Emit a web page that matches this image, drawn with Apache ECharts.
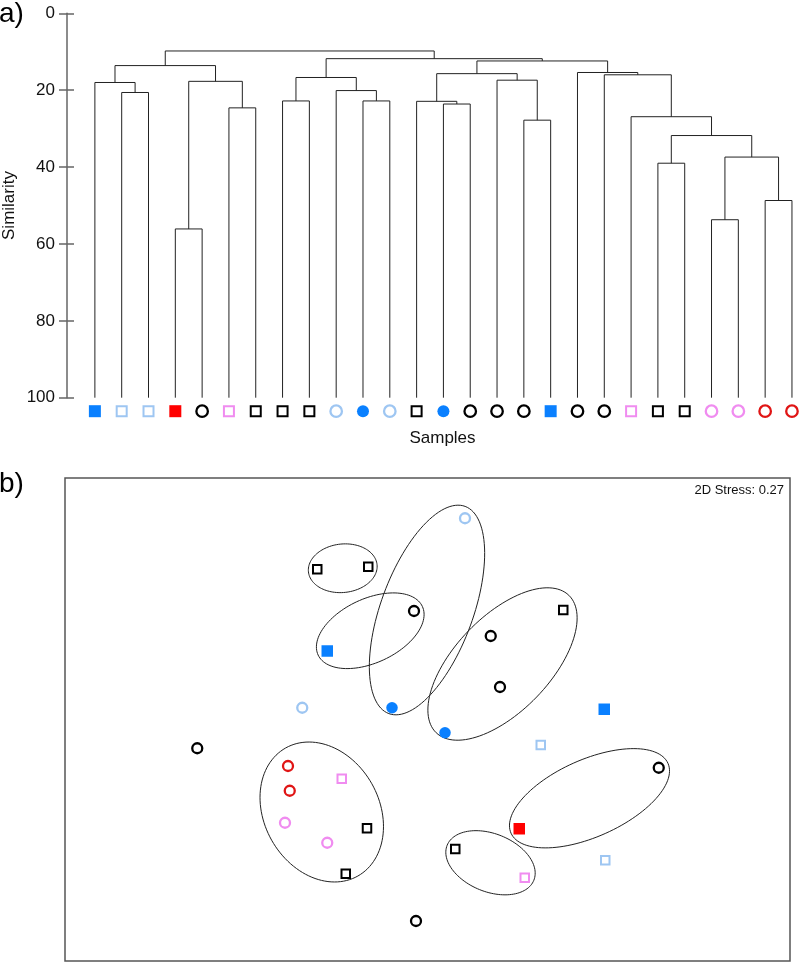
<!DOCTYPE html>
<html>
<head>
<meta charset="utf-8">
<script src="https://cdn.jsdelivr.net/npm/echarts@6/dist/echarts.min.js"></script>
<style>html,body{margin:0;padding:0;background:#fff}#main{width:800px;height:963px}</style>
</head>
<body>
<div id="main"></div>
<script>
// ---------- Data ----------
// Leaf order of the dendrogram (sample type codes)
const leafTypes = ['bsq','lsq','lsq','rsq','kci','psq','ksq','ksq','ksq','lci','bci','lci','ksq','bci','kci','kci','kci','bsq','kci','kci','psq','ksq','ksq','pci','pci','rci','rci'];
// Merges: [childA, childB, similarity]; ids 0..26 are leaves, 27+ are merge nodes in order
const merges = [
  [1, 2, 20.6],   // 27
  [0, 27, 18.0],  // 28
  [3, 4, 56.1],   // 29
  [5, 6, 24.6],   // 30
  [29, 30, 17.7], // 31
  [28, 31, 13.6], // 32
  [7, 8, 22.8],   // 33
  [10, 11, 22.8], // 34
  [9, 34, 20.1],  // 35
  [33, 35, 16.7], // 36
  [13, 14, 23.6], // 37
  [12, 37, 22.9], // 38
  [16, 17, 27.8], // 39
  [15, 39, 17.4], // 40
  [38, 40, 15.7], // 41
  [21, 22, 39.0], // 42
  [23, 24, 53.7], // 43
  [25, 26, 48.7], // 44
  [43, 44, 37.4], // 45
  [42, 45, 31.8], // 46
  [20, 46, 26.9], // 47
  [19, 47, 16.0], // 48
  [18, 48, 15.4], // 49
  [41, 49, 12.4], // 50
  [36, 50, 11.8], // 51
  [32, 51, 9.8]   // 52
];
const simTicks = [0, 20, 40, 60, 80, 100];

// NMDS ordination
const nmdsX = [-0.441,-0.237,0.543,-0.242,-0.327,0.111, -0.054,0.253,0.290,-0.921,-0.046,0.925, -0.401,0.707, 0.453,0.711, 0.367, -0.343,0.389, 0.150,-0.501, -0.142,0.070, -0.570,-0.401, -0.558,-0.551];
const nmdsY = [0.601,0.611,0.438,-0.435,-0.617,-0.518, 0.434,0.334,0.130,-0.115,-0.806,-0.193, 0.274,0.041, -0.102,-0.563, -0.437, -0.237,-0.633, 0.805,0.047, 0.047,-0.053, -0.413,-0.493, -0.186,-0.285];
const nmdsType = ['ksq','ksq','ksq','ksq','ksq','ksq','kci','kci','kci','kci','kci','kci','bsq','bsq','lsq','lsq','rsq','psq','psq','lci','lci','bci','bci','pci','pci','rci','rci'];
const stressText = '2D Stress: 0.27';

// Cluster ellipses (centre, semi-axes, rotation in degrees)
const ellCX = [-0.339,-0.229,-0.002,0.300,0.648,0.252,-0.423];
const ellCY = [0.605,0.355,0.438,0.222,-0.315,-0.573,-0.370];
const ellA  = [0.138,0.230,0.4416,0.382,0.3436,0.187,0.294];
const ellB  = [0.097,0.128,0.1844,0.190,0.1544,0.116,0.230];
const ellAng= [6,25,69.8,46,24,-22,-60.6];

// ---------- Styles ----------
const typeStyle = {
  bsq: {symbol:'rect',   color:'#0a80ff', filled:true},
  lsq: {symbol:'rect',   color:'#9ec6f2', filled:false},
  rsq: {symbol:'rect',   color:'#ff0000', filled:true},
  psq: {symbol:'rect',   color:'#f08cf0', filled:false},
  ksq: {symbol:'rect',   color:'#000000', filled:false},
  kci: {symbol:'circle', color:'#000000', filled:false},
  lci: {symbol:'circle', color:'#9ec6f2', filled:false},
  bci: {symbol:'circle', color:'#0a80ff', filled:true},
  pci: {symbol:'circle', color:'#f08cf0', filled:false},
  rci: {symbol:'circle', color:'#e01515', filled:false}
};
function markerItem(value, type, big){
  const s = typeStyle[type];
  let size;
  if (s.filled) size = big ? 12 : 11.5;
  else if (s.symbol === 'rect') size = big ? 10 : 8.5;
  else size = big ? 11.5 : 10;
  return {
    value: value,
    symbol: s.symbol,
    symbolSize: size,
    itemStyle: s.filled ? {color:s.color, borderWidth:0, opacity:1}
                        : {color:'#ffffff', borderColor:s.color, borderWidth: s.symbol==='rect' ? 2 : 2.3, opacity:1}
  };
}

// ---------- Dendrogram geometry from merges ----------
const nLeaf = leafTypes.length;
const pos = {}, hgt = {};
for (let i = 0; i < nLeaf; i++) { pos[i] = i; hgt[i] = 100; }
const linkData = merges.map((m, k) => {
  const id = nLeaf + k;
  pos[id] = (pos[m[0]] + pos[m[1]]) / 2;
  hgt[id] = m[2];
  return [pos[m[0]], pos[m[1]], m[2], hgt[m[0]], hgt[m[1]]];
});
const leafData = leafTypes.map((t, i) => markerItem([i, 100], t, true));
const nmdsData = nmdsX.map((x, i) => markerItem([x, nmdsY[i]], nmdsType[i], false));
const ellData = ellCX.map((c, i) => [c, ellCY[i], ellA[i], ellB[i], ellAng[i]]);

const FONT = 'Liberation Sans, Arial, sans-serif';
const chart = echarts.init(document.getElementById('main'), null, {renderer:'canvas'});
chart.setOption({
  animation: false,
  backgroundColor: '#ffffff',
  textStyle: {fontFamily: FONT},
  grid: [
    {left: 67, top: 13.3, width: 733, height: 384.4, show: false},
    {left: 65, top: 478, width: 725, height: 483, show: true, borderColor: '#555', borderWidth: 1.5, backgroundColor: 'transparent'}
  ],
  xAxis: [
    {gridIndex: 0, type: 'value', min: -1.04, max: 26.3, show: false},
    {gridIndex: 1, type: 'value', min: -1.45, max: 1.45, show: false}
  ],
  yAxis: [
    {gridIndex: 0, type: 'value', position: 'left', inverse: true, min: 0, max: 100, interval: 20,
     axisLine: {show: true, onZero: false, lineStyle: {color: '#666', width: 1.5}},
     axisTick: {show: true, length: 8, inside: false, lineStyle: {color: '#666', width: 1.5}},
     axisLabel: {show: true, fontSize: 17, color: '#111', margin: 12, fontFamily: FONT,
                 formatter: v => simTicks.indexOf(v) >= 0 ? String(v) : ''},
     splitLine: {show: false}},
    {gridIndex: 0, type: 'value', position: 'left', offset: 0, inverse: true, min: 0, max: 100, interval: 20,
     axisLine: {show: false, onZero: false},
     axisTick: {show: true, length: 7, inside: true, lineStyle: {color: '#666', width: 1.5}},
     axisLabel: {show: false}, splitLine: {show: false}},
    {gridIndex: 1, type: 'value', min: -0.966, max: 0.966, show: false}
  ],
  series: [
    {
      type: 'custom', xAxisIndex: 0, yAxisIndex: 0, clip: false,
      data: linkData,
      encode: {x: [0, 1], y: [2]},
      renderItem: (params, api) => {
        const xl = api.value(0), xr = api.value(1), h = api.value(2), hl = api.value(3), hr = api.value(4);
        const p1 = api.coord([xl, hl]), p2 = api.coord([xl, h]), p3 = api.coord([xr, h]), p4 = api.coord([xr, hr]);
        return {type: 'polyline', shape: {points: [p1, p2, p3, p4]},
                style: {stroke: '#222', lineWidth: 1, fill: null}};
      },
      z: 2
    },
    {
      type: 'scatter', xAxisIndex: 0, yAxisIndex: 0, clip: false,
      symbolOffset: [0, 13.5],
      data: leafData, z: 3
    },
    {
      type: 'custom', xAxisIndex: 1, yAxisIndex: 2, clip: false,
      data: ellData,
      encode: {x: 0, y: 1},
      renderItem: (params, api) => {
        const cx = api.value(0), cy = api.value(1), a = api.value(2), b = api.value(3);
        const phi = api.value(4) * Math.PI / 180;
        const pts = [];
        for (let k = 0; k <= 120; k++) {
          const t = k / 120 * Math.PI * 2;
          const x = cx + a * Math.cos(t) * Math.cos(phi) - b * Math.sin(t) * Math.sin(phi);
          const y = cy + a * Math.cos(t) * Math.sin(phi) + b * Math.sin(t) * Math.cos(phi);
          pts.push(api.coord([x, y]));
        }
        return {type: 'polygon', shape: {points: pts}, style: {stroke: '#222', lineWidth: 1, fill: null}};
      },
      z: 2
    },
    {
      type: 'scatter', xAxisIndex: 1, yAxisIndex: 2,
      data: nmdsData, z: 3
    }
  ],
  graphic: [
    {type: 'text', left: -1, top: 0, style: {text: 'a)', font: '28px ' + FONT, fill: '#000'}},
    {type: 'text', left: -1, top: 470, style: {text: 'b)', font: '28px ' + FONT, fill: '#000'}},
    {type: 'text', x: 9, y: 205.5, rotation: Math.PI / 2,
     style: {text: 'Similarity', font: '17px ' + FONT, fill: '#111', align: 'center', verticalAlign: 'middle'}},
    {type: 'text', x: 442.5, y: 438, style: {text: 'Samples', font: '17px ' + FONT, fill: '#111', align: 'center', verticalAlign: 'middle'}},
    {type: 'text', x: 784, y: 490, style: {text: stressText, font: '13px ' + FONT, fill: '#111', align: 'right', verticalAlign: 'middle'}}
  ]
});
</script>
</body>
</html>
